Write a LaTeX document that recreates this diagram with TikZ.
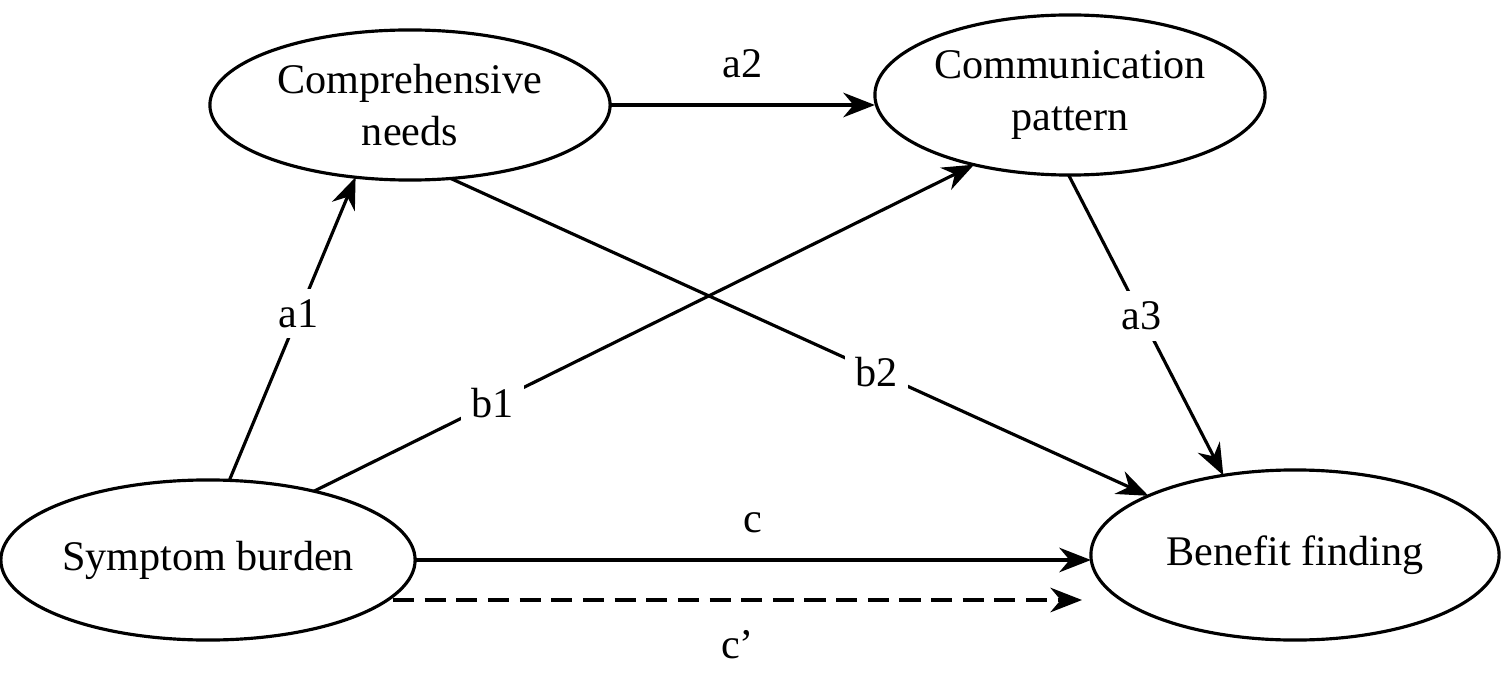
\documentclass[tikz,border=0pt]{standalone}
\usepackage{fontspec}
\setmainfont{Liberation Serif}
\usetikzlibrary{shapes.geometric,arrows.meta}
\begin{document}
\begin{tikzpicture}[x=0.01cm,y=-0.01cm,
  every node/.style={font=\fontsize{12}{15}\selectfont},
  ov/.style={draw,line width=0.9pt,ellipse,align=center,inner sep=0pt,outer sep=0pt},
  ar/.style={line width=0.9pt,-{Stealth[length=9pt,width=7pt]}},
  lb/.style={fill=white,inner sep=3pt}]
\useasboundingbox (0,0) rectangle (1503,676);
\node[ov,minimum width=4cm,minimum height=1.5cm] (cn) at (410,105) {Comprehensive\\needs};
\node[ov,minimum width=3.9cm,minimum height=1.6cm] (cp) at (1070,95) {Communication\\pattern};
\node[ov,minimum width=4.14cm,minimum height=1.6cm] (sb) at (208,560) {Symptom burden};
\node[ov,minimum width=4.08cm,minimum height=1.7cm] (bf) at (1295,555) {Benefit finding};
\draw[ar] (sb.75) -- node[lb,pos=0.55]{a1} (cn.-127);
\draw[ar] (cn.east) -- node[above=4pt]{a2} (cn.east -| cp.west);
\draw[ar] (sb.33) -- node[lb,pos=0.27]{b1} (cp.-144);
\draw[ar] (cn.-61) -- node[lb,pos=0.61]{b2} (bf.158);
\draw[ar] (cp.-91) -- node[lb,pos=0.47]{a3} (bf.132);
\draw[ar] (sb.east) -- node[above=4pt]{c} (sb.east -| bf.west);
\coordinate (ce) at (1082,600);
\draw[ar,dashed,dash pattern=on 6pt off 3pt] (ce -| sb.-11) -- node[below=5pt]{c’} (ce);
\end{tikzpicture}
\end{document}
